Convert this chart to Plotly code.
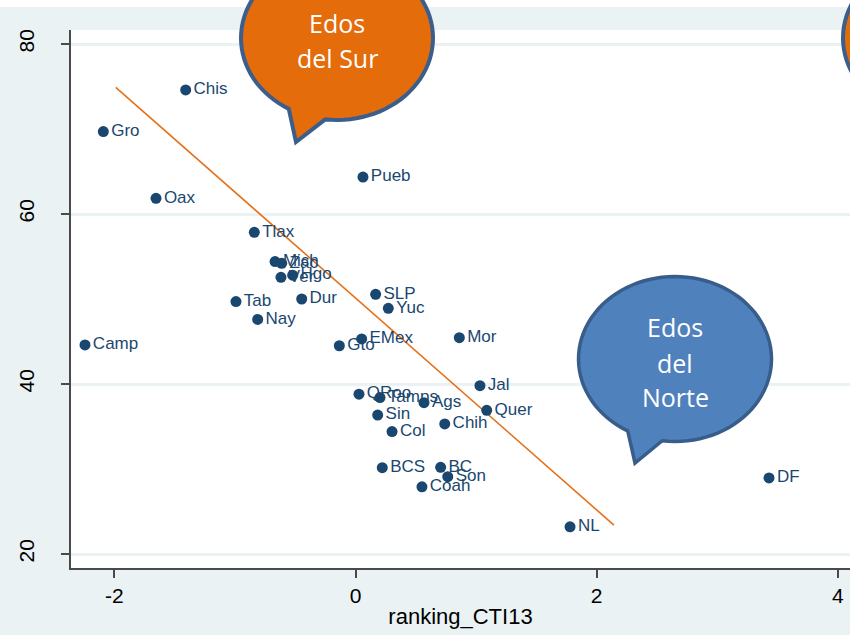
import math
import plotly.graph_objects as go

# ---- data ----
states = ["Chis", "Gro", "Oax", "Pueb", "Tlax", "Mich", "Zac", "Ver", "Hgo", "Tab",
          "Nay", "Dur", "SLP", "Yuc", "EMex", "Gto", "Mor", "Camp", "QRoo", "Tamps",
          "Ags", "Jal", "Quer", "Sin", "Col", "Chih", "BCS", "BC", "Son", "Coah",
          "NL", "DF"]
ranking_cti13 = [-1.408, -2.091, -1.654, 0.062, -0.839, -0.667, -0.612, -0.618, -0.521, -0.991,
                 -0.811, -0.446, 0.167, 0.272, 0.051, -0.134, 0.861, -2.243, 0.029, 0.203,
                 0.568, 1.032, 1.088, 0.184, 0.303, 0.740, 0.222, 0.706, 0.765, 0.551,
                 1.779, 3.429]
yvals = [74.6, 69.7, 61.85, 64.35, 57.85, 54.4, 54.2, 52.55, 52.8, 49.7,
         47.6, 50.0, 50.55, 48.9, 45.3, 44.5, 45.45, 44.6, 38.8, 38.4,
         37.8, 39.8, 36.9, 36.35, 34.4, 35.3, 30.15, 30.2, 29.1, 27.9,
         23.2, 28.95]
fit_x = [-1.988, 2.143]
fit_y = [74.9, 23.4]
x_ticks = [-2, 0, 2, 4]
y_ticks = [20, 40, 60, 80]

# ---- layout geometry (page pixels) ----
W, H = 850, 635
ML, MR, MT, MB = 71, 0, 30, 67
PW, PH = W - ML - MR, H - MT - MB
PLOT_BOTTOM = H - MB


def px2paper(px, py):
    return (px - ML) / PW, (PLOT_BOTTOM - py) / PH


def bubble_path(cx, cy, rx, ry, base_l=None, base_r=None, tip=None, n=90):
    pts = []
    if tip is None:
        for i in range(n + 1):
            t = 2 * math.pi * i / n
            pts.append((cx + rx * math.cos(t), cy + ry * math.sin(t)))
    else:
        tl = math.atan2((base_l[1] - cy) / ry, (base_l[0] - cx) / rx)
        tr = math.atan2((base_r[1] - cy) / ry, (base_r[0] - cx) / rx)
        end = tl - 2 * math.pi
        for i in range(n + 1):
            t = tr + (end - tr) * i / n
            pts.append((cx + rx * math.cos(t), cy + ry * math.sin(t)))
        pts.append(tip)
    s = ""
    for i, (x, y) in enumerate(pts):
        X, Y = px2paper(x, y)
        s += ("M" if i == 0 else "L") + f"{X:.5f},{Y:.5f} "
    return s + "Z"


fig = go.Figure()
fig.add_trace(go.Scatter(
    x=fit_x, y=fit_y, mode="lines",
    line=dict(color="#E5701A", width=1.6), hoverinfo="skip", showlegend=False))
fig.add_trace(go.Scatter(
    x=ranking_cti13, y=yvals, mode="markers+text", text=states,
    textposition="middle right",
    textfont=dict(family="Liberation Sans, Arial", size=17, color="#1A476F"),
    marker=dict(size=11, color="#1A476F", line=dict(width=0)),
    showlegend=False))

shapes = []
# white band across the top of the image
x0, y0 = px2paper(0, 7)
x1, y1 = px2paper(W, -2)
shapes.append(dict(type="rect", xref="paper", yref="paper", x0=x0, x1=x1, y0=y0, y1=y1,
                   fillcolor="white", line=dict(width=0), layer="below"))
# orange bubble "Edos del Sur"
shapes.append(dict(type="path", xref="paper", yref="paper",
                   path=bubble_path(337, 38, 96, 82, (288, 110), (325, 121), (296, 142)),
                   fillcolor="#E46C0A", line=dict(color="#3B5E8C", width=4)))
# orange bubble cut at top right
shapes.append(dict(type="path", xref="paper", yref="paper",
                   path=bubble_path(939, 38, 96, 82),
                   fillcolor="#E46C0A", line=dict(color="#3B5E8C", width=4)))
# blue bubble "Edos del Norte"
shapes.append(dict(type="path", xref="paper", yref="paper",
                   path=bubble_path(675, 359, 96.5, 82.5, (627, 432), (662, 442), (635, 463)),
                   fillcolor="#4F81BD", line=dict(color="#385D8A", width=3.5)))

annotations = []
for txt, px, py in [("Edos", 337, 23), ("del Sur", 337, 58),
                    ("Edos", 675, 327), ("del", 675, 363), ("Norte", 675, 397)]:
    X, Y = px2paper(px, py)
    annotations.append(dict(text=txt, x=X, y=Y, xref="paper", yref="paper",
                            xanchor="center", yanchor="middle", showarrow=False,
                            font=dict(family="Open Sans", size=25, color="white")))

# axis ranges so that ticks land where they do in the reference
xmin, xppu = -2.359, 120.6
ymin, yppu = 18.353, 8.5

fig.update_layout(
    width=W, height=H,
    margin=dict(l=ML, r=MR, t=MT, b=MB),
    paper_bgcolor="#EAF2F3", plot_bgcolor="white",
    shapes=shapes, annotations=annotations,
    xaxis=dict(range=[xmin, xmin + PW / xppu], tickvals=x_ticks,
               ticktext=[str(v) for v in x_ticks],
               showgrid=False, zeroline=False, showline=True, linecolor="#4a4a4a", linewidth=1.5,
               ticks="outside", ticklen=8, tickwidth=1.5, tickcolor="#4a4a4a",
               tickfont=dict(family="Liberation Sans, Arial", size=21, color="black"),
               title=dict(text="ranking_CTI13", standoff=3,
                          font=dict(family="Liberation Sans, Arial", size=22, color="black"))),
    yaxis=dict(range=[ymin, ymin + PH / yppu], tickvals=y_ticks,
               ticktext=[str(v) for v in y_ticks],
               showgrid=True, gridcolor="#EAF2F3", gridwidth=2.5, zeroline=False,
               showline=True, linecolor="#4a4a4a", linewidth=1.5,
               ticks="outside", ticklen=8, tickwidth=1.5, tickcolor="#4a4a4a", tickangle=-90,
               ticklabelstandoff=19,
               tickfont=dict(family="Liberation Sans, Arial", size=21, color="black")),
)

fig.write_html("out.html", config={"displayModeBar": False},
               post_script="document.body.style.margin='0';")
